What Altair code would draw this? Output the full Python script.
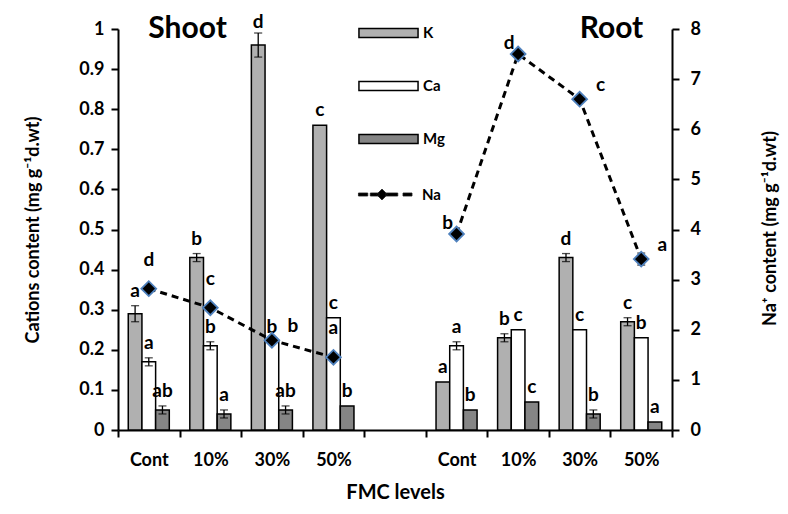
import altair as alt
import pandas as pd

FONT = "Lato"

levels = ["Cont", "10%", "30%", "50%"]
ions = ["K", "Ca", "Mg"]

# Cations (left axis, mg g-1 d.wt)
shoot_K = [0.29, 0.43, 0.96, 0.76]
shoot_Ca = [0.17, 0.21, 0.22, 0.28]
shoot_Mg = [0.05, 0.04, 0.05, 0.06]
root_K = [0.12, 0.23, 0.43, 0.27]
root_Ca = [0.21, 0.25, 0.25, 0.23]
root_Mg = [0.05, 0.07, 0.04, 0.02]

shoot_K_err = [0.02, 0.01, 0.03, 0.0]
shoot_Ca_err = [0.01, 0.01, 0.0, 0.0]
shoot_Mg_err = [0.01, 0.01, 0.01, 0.0]
root_K_err = [0.0, 0.01, 0.01, 0.01]
root_Ca_err = [0.01, 0.0, 0.0, 0.0]
root_Mg_err = [0.0, 0.0, 0.01, 0.0]

shoot_K_let = ["a", "b", "d", "c"]
shoot_Ca_let = ["a", "b", "b", "c"]
shoot_Mg_let = ["ab", "a", "ab", "b"]
root_K_let = ["a", "b", "d", "c"]
root_Ca_let = ["a", "c", "c", "b"]
root_Mg_let = ["b", "c", "b", "a"]

# Na (right axis)
shoot_Na = [2.82, 2.44, 1.79, 1.45]
root_Na = [3.91, 7.50, 6.60, 3.41]
shoot_Na_err = [0.0, 0.0, 0.0, 0.0]
root_Na_err = [0.0, 0.0, 0.0, 0.12]
shoot_Na_let = ["d", "c", "b", "a"]
root_Na_let = ["b", "d", "c", "a"]
na_label_side = ["above", "above", "right", "above", "left", "left", "right", "right"]

panel_titles = ["Shoot", "Root"]

cat_domain = [f"Shoot|{l}" for l in levels] + ["gap"] + [f"Root|{l}" for l in levels]

# ---- tables ----
rows = []
series = {
    ("Shoot", "K"): (shoot_K, shoot_K_err, shoot_K_let),
    ("Shoot", "Ca"): (shoot_Ca, shoot_Ca_err, shoot_Ca_let),
    ("Shoot", "Mg"): (shoot_Mg, shoot_Mg_err, shoot_Mg_let),
    ("Root", "K"): (root_K, root_K_err, root_K_let),
    ("Root", "Ca"): (root_Ca, root_Ca_err, root_Ca_let),
    ("Root", "Mg"): (root_Mg, root_Mg_err, root_Mg_let),
}
for (g, ion), (vals, errs, lets) in series.items():
    for lev, v, e, t in zip(levels, vals, errs, lets):
        rows.append(dict(cat=f"{g}|{lev}", group=g, ion=ion, value=v, err=e,
                         lo=v - e, hi=v + e, letter=t))
bars_df = pd.DataFrame(rows)

na_rows = []
i = 0
for g, vals, errs, lets in [("Shoot", shoot_Na, shoot_Na_err, shoot_Na_let),
                            ("Root", root_Na, root_Na_err, root_Na_let)]:
    for lev, v, e, t in zip(levels, vals, errs, lets):
        na_rows.append(dict(cat=f"{g}|{lev}", group=g, series="Na", na=v, err=e,
                            lo=v - e, hi=v + e, letter=t, side=na_label_side[i]))
        i += 1
na_df = pd.DataFrame(na_rows)

# ---- encodings ----
x_axis = alt.Axis(
    title="FMC levels",
    labelExpr="indexof(datum.label, '|') > 0 ? split(datum.label, '|')[1] : ''",
    labelAngle=0, tickBand="extent", tickSize=7, tickWidth=2, tickColor="black",
    domainColor="black", domainWidth=2, labelFont=FONT, labelFontSize=18,
    labelFontWeight="bold", labelColor="black", labelPadding=14,
    titleFont=FONT, titleFontSize=20, titleFontWeight="bold", titleColor="black",
    titlePadding=13,
)
x_scale = alt.Scale(domain=cat_domain, paddingInner=0, paddingOuter=0)


def xenc(**kw):
    return alt.X("cat:N", scale=x_scale, axis=x_axis, **kw)


xoff = alt.XOffset("ion:N", sort=ions,
                   scale=alt.Scale(domain=ions, paddingInner=0, paddingOuter=0.75))

left_axis = alt.Axis(
    title="Cations content (mg g\u207b\u00b9d.wt)", values=[i / 10 for i in range(11)],
    format="~g", tickSize=7, tickWidth=2, tickColor="black", domainColor="black",
    domainWidth=2, labelFont=FONT, labelFontSize=18, labelFontWeight="bold",
    labelColor="black", labelPadding=7, titleFont=FONT, titleFontSize=18,
    titleFontWeight="bold", titleColor="black", titlePadding=36, grid=False,
)
left_scale = alt.Scale(domain=[0, 1], nice=False)

right_axis = alt.Axis(
    title="Na\u207a content (mg g\u207b\u00b9d.wt)", values=list(range(9)), orient="right",
    tickSize=7, tickWidth=2, tickColor="black", domainColor="black", domainWidth=2,
    labelFont=FONT, labelFontSize=18, labelFontWeight="bold", labelColor="black",
    labelPadding=11, titleFont=FONT, titleFontSize=18, titleFontWeight="bold",
    titleColor="black", titleAngle=270, titleX=98, titleY=199,
    titleBaseline="middle", titleAlign="center", grid=False,
)
right_scale = alt.Scale(domain=[0, 8], nice=False)

RECT_PATH = "M-1.07,-0.3H2.87V0.3H-1.07Z"
NA_PATH = ("M-1.07,-0.1H-0.45V0.1H-1.07Z M-0.28,-0.1H0.3V0.1H-0.28Z "
           "M0.5,-0.36L0.86,0L0.5,0.36L0.14,0Z M0.75,-0.1H1.55V0.1H0.75Z "
           "M1.9,-0.1H2.5V0.1H1.9Z")

bar_legend = alt.Legend(
    title=None, orient="none", legendX=241, legendY=-12, direction="vertical",
    symbolType=RECT_PATH, symbolSize=900, symbolStrokeWidth=1.5,
    symbolStrokeColor="black", labelFont=FONT, labelFontSize=15,
    labelFontWeight="bold", labelColor="black", labelOffset=32, rowPadding=29,
    padding=0,
)
na_legend = alt.Legend(
    title=None, orient="none", legendX=241, legendY=150, direction="vertical",
    symbolType=NA_PATH, symbolSize=900, symbolStrokeWidth=0.8,
    symbolStrokeColor="#1a1a1a", labelFont=FONT, labelFontSize=15,
    labelFontWeight="bold", labelColor="black", labelOffset=32, padding=0,
)
fill_scale = alt.Scale(domain=ions, range=["#b0b0b0", "#ffffff", "#858585"])
na_fill_scale = alt.Scale(domain=["Na"], range=["#000000"])

base_bars = alt.Chart(bars_df)

bars = base_bars.mark_bar(stroke="black", strokeWidth=1.5).encode(
    x=xenc(), xOffset=xoff,
    y=alt.Y("value:Q", scale=left_scale, axis=left_axis),
    fill=alt.Fill("ion:N", scale=fill_scale, legend=bar_legend, sort=ions),
)
errs = base_bars.transform_filter("datum.err > 0").mark_rule(
    color="black", strokeWidth=1.3).encode(
    x=xenc(), xOffset=xoff,
    y=alt.Y("lo:Q", scale=left_scale, axis=left_axis), y2="hi:Q",
)
cap_hi = base_bars.transform_filter("datum.err > 0").mark_tick(
    color="black", thickness=1.3, size=8).encode(
    x=xenc(), xOffset=xoff, y=alt.Y("hi:Q", scale=left_scale, axis=left_axis))
cap_lo = base_bars.transform_filter("datum.err > 0").mark_tick(
    color="black", thickness=1.3, size=8).encode(
    x=xenc(), xOffset=xoff, y=alt.Y("lo:Q", scale=left_scale, axis=left_axis))
letters = base_bars.transform_calculate(
    ly="min(datum.hi + 0.005, 0.985)").mark_text(
    font=FONT, fontSize=19, fontWeight="bold", color="black", dy=-7,
    baseline="alphabetic").encode(
    x=xenc(), xOffset=xoff,
    y=alt.Y("ly:Q", scale=left_scale, axis=left_axis), text="letter:N")


def panel_title(cat, text, dx):
    return alt.Chart(pd.DataFrame({"cat": [cat], "t": [text]})).mark_text(
        font=FONT, fontSize=30, fontWeight="bold", color="black", baseline="middle",
        dx=dx).encode(
        x=xenc(bandPosition=0), y=alt.datum(1.0, scale=left_scale, axis=left_axis),
        text="t:N")


left = alt.layer(bars, errs, cap_hi, cap_lo, letters,
                 panel_title("Shoot|10%", panel_titles[0], 8),
                 panel_title("Root|50%", panel_titles[1], 1))

base_na = alt.Chart(na_df)
y_na = alt.Y("na:Q", scale=right_scale, axis=right_axis)
na_line = base_na.mark_line(color="black", strokeWidth=3, strokeDash=[7, 5]).encode(
    x=xenc(), y=y_na, detail="group:N")
na_err = base_na.transform_filter("datum.err > 0").mark_rule(
    color="black", strokeWidth=1.3).encode(
    x=xenc(), y=alt.Y("lo:Q", scale=right_scale, axis=right_axis), y2="hi:Q")
na_cap_lo = base_na.transform_filter("datum.err > 0").mark_tick(
    color="black", thickness=1.3, size=8).encode(
    x=xenc(), y=alt.Y("lo:Q", scale=right_scale, axis=right_axis))
na_cap_hi = base_na.transform_filter("datum.err > 0").mark_tick(
    color="black", thickness=1.3, size=8).encode(
    x=xenc(), y=alt.Y("hi:Q", scale=right_scale, axis=right_axis))
na_pts = base_na.mark_point(filled=True, shape="diamond", size=220, stroke="#4f81bd",
                            strokeWidth=1.8, opacity=1).encode(
    x=xenc(), y=y_na, fill=alt.Fill("series:N", scale=na_fill_scale, legend=na_legend))


def na_lab(side, dx, dy):
    return base_na.transform_filter(f"datum.side === '{side}'").mark_text(
        font=FONT, fontSize=19, fontWeight="bold", color="black", dx=dx, dy=dy,
        baseline="alphabetic").encode(x=xenc(), y=y_na, text="letter:N")


right = alt.layer(na_line, na_err, na_cap_lo, na_cap_hi, na_pts,
                  na_lab("above", 0, -23), na_lab("left", -9, -5),
                  na_lab("right", 21, -8))

chart = alt.layer(left, right).resolve_scale(
    y="independent", fill="independent").resolve_legend(fill="independent").properties(
    width=554, height=401,
    padding={"left": 110, "top": 21, "right": 108, "bottom": 76},
    autosize=alt.AutoSizeParams(type="none"),
).configure_view(stroke=None)

chart.save("out.html", embed_options={"renderer": "svg", "actions": False})
